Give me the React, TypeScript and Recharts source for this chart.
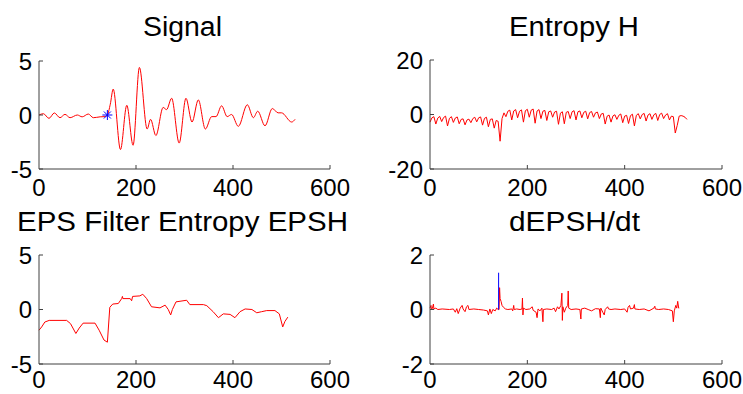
import React from "react";
import { LineChart, Line, XAxis, YAxis } from "recharts";

const FONT = '"Liberation Sans", Arial, sans-serif';
const AXIS = "#404040";
const RED = "#ff0000";
const BLUE = "#0000ff";

const X_TICKS = [0, 200, 400, 600];

// Signal (peaks / troughs)
const signalX = [0, 9, 20.6, 31.6, 43.3, 53.6, 64, 79, 89, 101.7, 112, 126, 136, 141, 147, 153, 168, 181, 194, 207, 223, 230, 241, 256, 263, 273.5, 289, 303, 315.5, 328.5, 343, 356, 365, 376.5, 388, 397, 411, 429.5, 442, 451, 466, 481, 493, 500, 521, 528];
const signalY = [0, 0.12, -0.31, 0.19, -0.25, 0.06, -0.25, 0, -0.17, 0.09, -0.25, -0.17, -0.15, 0, 1.0, 2.4, -3.2, 0.9, -2.8, 4.4, -1.3, -0.4, -1.9, 0.7, 0.5, 1.55, -2.6, 1.55, -0.65, 1.4, -1.3, -0.15, -0.15, 0.85, -0.15, 0.05, -1.05, 0.95, -0.25, 0.35, -1.0, 0.6, 0.2, 0.2, -0.65, -0.4];
const onsetX = [141];
const onsetY = [0];

// Entropy H, one value every 4 samples
const ENTROPY_STEP = 4;
const entropyY = [
  -2.8, -1.2, -0.8, -3.5, -1.3, -0.7, -2.6, -1.1, -0.6, -4.2, -1.4, -0.8,
  -2.9, -1.3, -0.9, -3.4, -1.8, -1.6, -3.8, -2.0, -1.7, -3.0, -1.5, -1.0,
  -2.7, -1.2, -0.9, -3.9, -1.4, -1.0, -4.5, -1.8, -1.6, -5.0, -2.2, -2.5,
  -9.8, -1.5, 0.6, -0.8, 1.2, 1.6, -2.0, 1.3, 1.8, -1.2, 1.2, 1.7,
  -2.8, 1.4, 1.9, -1.0, 1.6, 2.0, -3.2, 1.3, 1.8, -1.5, 1.2, 1.5,
  -2.2, 1.0, 1.3, -1.0, 0.9, 1.2, -3.6, 0.5, 1.0, -3.4, 0.8, 1.1,
  -1.5, 1.0, 1.4, -2.0, 1.0, 1.3, -1.2, 0.8, 1.2, -1.6, 0.7, 1.1,
  -1.0, 0.6, 0.9, -1.5, 0.2, 0.4, -3.5, -0.6, -0.2, -2.8, -0.5, -0.1,
  -1.8, -0.3, 0.2, -3.0, -0.6, -0.3, -3.3, -0.4, 0.1, -4.2, -0.3, 0.3,
  -1.6, 0.0, 0.4, -2.4, -0.2, 0.3, -1.8, -0.1, 0.4, -2.2, 0.0, 0.5,
  -1.5, -0.2, 0.3, -2.0, -0.6, -0.8, -6.8, -4.0, -0.6, -0.4, -0.6, -1.0,
  -1.8,
];

// EPS filter entropy EPSH
const epshX = [0, 5.5, 12, 21, 57, 65, 76, 83, 91, 115.5, 124, 134, 141, 146, 152, 163.5, 170.5, 172, 173, 188, 191, 193, 208, 214, 222, 232, 249.5, 260, 266.5, 271.5, 275, 282.5, 304.5, 311, 339, 346, 359, 370, 380, 394, 404, 414.5, 425, 439, 449, 459, 469.5, 486.5, 495.5, 502.5, 507, 513];
const epshY = [-1.9, -1.6, -1.15, -1.0, -1.0, -1.3, -2.2, -1.7, -1.25, -1.25, -1.9, -2.8, -3.0, 0.2, 0.5, 0.55, 1.0, 1.2, 1.0, 1.0, 0.8, 1.2, 1.25, 1.4, 1.0, 0.25, 0.15, 0.4, 0.0, -0.5, 0.0, 0.7, 0.85, 0.45, 0.45, 0.35, -0.2, -0.75, -0.4, -0.45, -0.75, -0.2, 0.05, 0.0, -0.3, -0.2, -0.1, -0.1, -0.4, -1.6, -1.1, -0.7];

// dEPSH/dt
const dX = [0, 2, 3, 5, 7, 8, 12, 16, 25, 40, 48, 52, 55, 58, 62, 66, 68, 72, 75, 78, 80, 90, 100, 110, 118, 120, 123, 126, 129, 134, 137, 140, 142, 143, 144, 146, 148, 151, 155, 160, 168, 170, 172, 173, 178, 185, 189, 190, 191, 192, 197, 205, 210, 212, 218, 220, 222, 226, 230, 232, 233, 240, 250, 255, 258, 262, 265, 269, 271, 272, 273, 276, 279, 283, 284, 285, 290, 300, 308, 310, 311, 318, 325, 332, 340, 348, 350, 351, 355, 358, 360, 365, 367, 372, 380, 392, 400, 405, 407, 410, 412, 418, 420, 421, 430, 440, 450, 460, 462, 463, 470, 480, 490, 498, 500, 502, 505, 507, 509, 511, 512];
const dY = [0.05, 0.15, 0.0, 0.05, 0.2, 0.02, 0.05, 0.0, 0.02, 0.0, 0.02, -0.1, 0.03, -0.15, 0.05, 0.15, 0.02, -0.08, 0.1, 0.15, 0.0, 0.02, 0.0, -0.02, -0.05, -0.2, 0.02, -0.15, 0.0, -0.05, 0.05, 0.0, 0.0, 0.8, 0.4, 0.3, 0.15, 0.08, 0.02, 0.0, 0.02, -0.05, 0.15, 0.0, 0.02, 0.0, 0.02, 0.42, -0.2, 0.05, 0.0, 0.02, 0.1, -0.03, -0.1, -0.3, 0.02, -0.05, 0.05, -0.45, 0.0, 0.02, 0.0, 0.05, -0.08, 0.1, 0.02, 0.15, 0.6, -0.4, 0.1, -0.1, 0.05, 0.15, 0.68, 0.05, 0.0, 0.02, 0.0, -0.35, 0.02, 0.05, 0.0, -0.05, 0.03, 0.02, -0.3, 0.05, -0.1, -0.2, 0.0, 0.1, 0.02, 0.0, 0.02, 0.0, 0.02, -0.1, 0.08, 0.15, 0.02, 0.05, 0.18, 0.02, 0.0, 0.02, -0.05, 0.05, 0.12, 0.02, 0.0, 0.02, 0.0, -0.05, -0.45, -0.05, 0.15, 0.05, 0.3, 0.05, 0.05];
const onsetSpikeX = [141, 141];
const onsetSpikeY = [0, 1.35];

const pairs = (xs: number[], ys: number[]) => xs.map((x, i) => ({ x, y: ys[i] }));

const signalData = pairs(signalX, signalY);
const onsetData = pairs(onsetX, onsetY);
const entropyData = entropyY.map((y, i) => ({ x: i * ENTROPY_STEP, y }));
const epshData = pairs(epshX, epshY);
const dData = pairs(dX, dY);
const spikeData = pairs(onsetSpikeX, onsetSpikeY);

const makeXTick = (labelOffset: number) => (props: any) => {
  const { x, y, payload } = props;
  return (
    <g>
      {payload.value !== 0 && <line x1={x} y1={y} x2={x} y2={y - 4} stroke={AXIS} />}
      <text x={x} y={y + labelOffset} textAnchor="middle" fontSize={24} fontFamily={FONT} fill="#000">
        {payload.value}
      </text>
    </g>
  );
};

const YTick = (props: any) => {
  const { x, y, payload } = props;
  return (
    <g>
      <line x1={x} y1={y} x2={x + 4} y2={y} stroke={AXIS} />
      <text x={x - 7} y={y + 8.5} textAnchor="end" fontSize={24} fontFamily={FONT} fill="#000">
        {payload.value}
      </text>
    </g>
  );
};

const Asterisk = (p: any) => {
  const { cx, cy, index } = p;
  return (
    <g key={`ast-${index}`} stroke={BLUE} strokeWidth={1}>
      <line x1={cx - 5} y1={cy} x2={cx + 5} y2={cy} />
      <line x1={cx} y1={cy - 5} x2={cx} y2={cy + 5} />
      <line x1={cx - 3.5} y1={cy - 3.5} x2={cx + 3.5} y2={cy + 3.5} />
      <line x1={cx - 3.5} y1={cy + 3.5} x2={cx + 3.5} y2={cy - 3.5} />
    </g>
  );
};

type PanelProps = {
  left: number;
  top: number;
  width: number;
  height: number;
  yAxisWidth: number;
  xAxisHeight: number;
  labelOffset: number;
  marginTop: number;
  marginRight: number;
  marginBottom: number;
  yDomain: [number, number];
  children: React.ReactNode;
};

function Panel(p: PanelProps) {
  const yTicks = [p.yDomain[0], 0, p.yDomain[1]];
  const XTick = makeXTick(p.labelOffset);
  return (
    <div style={{ position: "absolute", left: p.left, top: p.top }}>
      <LineChart
        width={p.width}
        height={p.height}
        margin={{ top: p.marginTop, right: p.marginRight, bottom: p.marginBottom, left: 0 }}
      >
        <XAxis
          dataKey="x"
          type="number"
          domain={[0, 600]}
          ticks={X_TICKS}
          allowDuplicatedCategory={false}
          height={p.xAxisHeight}
          tickSize={0}
          tickMargin={0}
          tickLine={false}
          axisLine={{ stroke: AXIS }}
          tick={<XTick />}
        />
        <YAxis
          type="number"
          domain={p.yDomain}
          ticks={yTicks}
          width={p.yAxisWidth}
          tickSize={0}
          tickMargin={0}
          tickLine={false}
          axisLine={{ stroke: AXIS }}
          tick={<YTick />}
          allowDataOverflow
        />
        {p.children}
      </LineChart>
    </div>
  );
}

const TITLES = [
  { text: "Signal", x: 182.5, y: 36, len: 79 },
  { text: "Entropy H", x: 574, y: 36, len: 130 },
  { text: "EPS Filter Entropy EPSH", x: 182.5, y: 231, len: 331 },
  { text: "dEPSH/dt", x: 574.5, y: 231, len: 131 },
];

export default function App() {
  return (
    <div
      style={{
        position: "fixed",
        left: 0,
        top: 0,
        width: 743,
        height: 394,
        background: "#fff",
        fontFamily: FONT,
      }}
    >
      <Panel left={0} top={0} width={371} height={212} yAxisWidth={39} xAxisHeight={28} labelOffset={27} marginTop={61} marginRight={41} marginBottom={15} yDomain={[-5, 5]}>
        <Line data={signalData} dataKey="y" type="monotone" stroke={RED} strokeWidth={1} dot={false} isAnimationActive={false} />
        <Line data={onsetData} dataKey="y" stroke="none" dot={<Asterisk />} isAnimationActive={false} />
      </Panel>
      <Panel left={371} top={0} width={372} height={212} yAxisWidth={59} xAxisHeight={28} labelOffset={27} marginTop={60} marginRight={21} marginBottom={15} yDomain={[-20, 20]}>
        <Line data={entropyData} dataKey="y" type="linear" stroke={RED} strokeWidth={1} dot={false} isAnimationActive={false} />
      </Panel>
      <Panel left={0} top={197} width={371} height={197} yAxisWidth={39} xAxisHeight={30} labelOffset={24} marginTop={58} marginRight={41} marginBottom={0} yDomain={[-5, 5]}>
        <Line data={epshData} dataKey="y" type="linear" stroke={RED} strokeWidth={1} dot={false} isAnimationActive={false} />
      </Panel>
      <Panel left={371} top={197} width={372} height={197} yAxisWidth={59} xAxisHeight={30} labelOffset={24} marginTop={58} marginRight={21} marginBottom={0} yDomain={[-2, 2]}>
        <Line data={dData} dataKey="y" type="linear" stroke={RED} strokeWidth={1} dot={false} isAnimationActive={false} />
        <Line data={spikeData} dataKey="y" type="linear" stroke={BLUE} strokeWidth={1} dot={false} isAnimationActive={false} />
      </Panel>
      <svg width={743} height={394} style={{ position: "absolute", left: 0, top: 0, pointerEvents: "none" }}>
        {TITLES.map((t) => (
          <text
            key={t.text}
            x={t.x}
            y={t.y}
            textAnchor="middle"
            fontSize={27}
            fontFamily={FONT}
            fill="#000"
            textLength={t.len}
            lengthAdjust="spacingAndGlyphs"
          >
            {t.text}
          </text>
        ))}
      </svg>
    </div>
  );
}
